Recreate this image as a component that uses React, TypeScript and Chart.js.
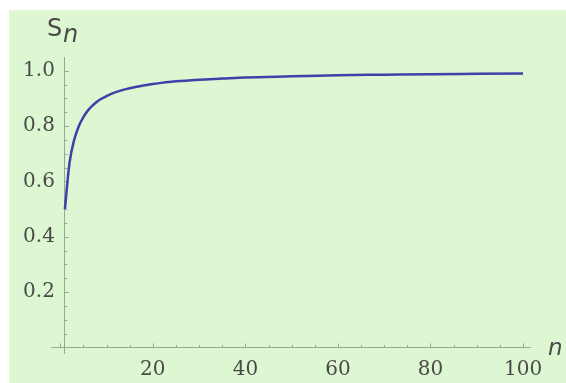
import { useEffect, useRef } from 'react';
import { Chart, registerables } from 'chart.js';

Chart.register(...registerables);

// Data
const N_VALUES = [1, 2, 3, 4, 5, 6, 7, 8, 9, 10, 12, 14, 16, 18, 20, 25, 30, 35, 40, 50, 60, 70, 80, 90, 100];
const S_VALUES = [0.5, 0.667, 0.75, 0.8, 0.833, 0.857, 0.875, 0.889, 0.9, 0.909, 0.923, 0.933, 0.941, 0.947, 0.952, 0.962, 0.968, 0.972, 0.976, 0.98, 0.984, 0.986, 0.988, 0.989, 0.99];
const X_TICKS = [20, 40, 60, 80, 100];
const Y_TICKS = [0.2, 0.4, 0.6, 0.8, 1.0];
const Y_LABEL_MAIN = 'S';
const Y_LABEL_SUB = 'n';
const X_LABEL = 'n';

const BG_GREEN = '#dcf7d1';
const AXIS_COLOR = '#97a795';
const TEXT_COLOR = '#4a4a4a';
const LINE_COLOR = '#4040a8';

const decorPlugin = {
  id: 'decor',
  beforeDraw(chart: any) {
    const ctx = chart.ctx;
    ctx.save();
    ctx.fillStyle = '#ffffff';
    ctx.fillRect(0, 0, chart.width, chart.height);
    ctx.fillStyle = BG_GREEN;
    ctx.fillRect(9, 10, chart.width - 9, chart.height - 10);
    ctx.restore();
  },
  beforeDatasetsDraw(chart: any) {
    const ctx = chart.ctx;
    const xs = chart.scales.x;
    const ys = chart.scales.y;
    const x0 = xs.getPixelForValue(1);
    const y0 = ys.getPixelForValue(0);
    ctx.save();
    ctx.strokeStyle = AXIS_COLOR;
    ctx.lineWidth = 1;
    ctx.beginPath();
    for (let v = 0; v <= 100; v += 5) {
      const px = Math.round(xs.getPixelForValue(v)) + 0.5;
      const len = v % 20 === 0 ? 4 : 2.5;
      ctx.moveTo(px, y0);
      ctx.lineTo(px, y0 - len);
    }
    for (let i = 1; i <= 20; i++) {
      const v = i * 0.05;
      const py = Math.round(ys.getPixelForValue(v)) + 0.5;
      const len = i % 4 === 0 ? 4 : 2.5;
      ctx.moveTo(x0, py);
      ctx.lineTo(x0 + len, py);
    }
    ctx.stroke();

    ctx.fillStyle = TEXT_COLOR;
    ctx.textBaseline = 'alphabetic';
    ctx.textAlign = 'left';
    ctx.font = '24px "DejaVu Sans"';
    ctx.fillText(Y_LABEL_MAIN, 47, 36);
    ctx.font = 'italic 24px "DejaVu Sans"';
    ctx.fillText(Y_LABEL_SUB, 63, 42);
    ctx.font = 'italic 23px "DejaVu Sans"';
    ctx.fillText(X_LABEL, 548, 355);
    ctx.restore();
  },
};

export default function App() {
  const ref = useRef<HTMLCanvasElement | null>(null);
  useEffect(() => {
    if (!ref.current) return;
    const chart = new Chart(ref.current, {
      type: 'line',
      data: {
        datasets: [
          {
            data: N_VALUES.map((n, i) => ({ x: n, y: S_VALUES[i] })),
            borderColor: LINE_COLOR,
            borderWidth: 2.5,
            pointRadius: 0,
            fill: false,
            cubicInterpolationMode: 'monotone',
          },
        ],
      },
      options: {
        animation: false,
        responsive: false,
        maintainAspectRatio: false,
        layout: { padding: { left: 51, top: 57, right: 36, bottom: 30 } },
        plugins: { legend: { display: false }, tooltip: { enabled: false } },
        scales: {
          x: {
            type: 'linear',
            min: -2,
            max: 101.5,
            position: { y: 0 } as any,
            grid: { display: false },
            border: { display: true, color: AXIS_COLOR, width: 1 },
            afterBuildTicks: (s: any) => {
              s.ticks = X_TICKS.map((v) => ({ value: v }));
            },
            ticks: {
              color: TEXT_COLOR,
              font: { family: '"DejaVu Serif"', size: 20 },
              padding: 2,
              maxRotation: 0,
              autoSkip: false,
              callback: (v: any) => String(v),
            },
          },
          y: {
            type: 'linear',
            min: -0.02,
            max: 1.05,
            position: { x: 1 } as any,
            grid: { display: false },
            border: { display: true, color: AXIS_COLOR, width: 1 },
            afterBuildTicks: (s: any) => {
              s.ticks = Y_TICKS.map((v) => ({ value: v }));
            },
            ticks: {
              color: TEXT_COLOR,
              font: { family: '"DejaVu Serif"', size: 20 },
              autoSkip: false,
              // en space keeps the right-aligned label clear of the axis line
              callback: (v: any) => Number(v).toFixed(1) + '\u2002',
            },
          },
        },
      },
      plugins: [decorPlugin],
    });
    return () => chart.destroy();
  }, []);
  return (
    <canvas
      ref={ref}
      width={566}
      height={383}
      style={{ position: 'absolute', left: 0, top: 0, width: 566, height: 383 }}
    />
  );
}
